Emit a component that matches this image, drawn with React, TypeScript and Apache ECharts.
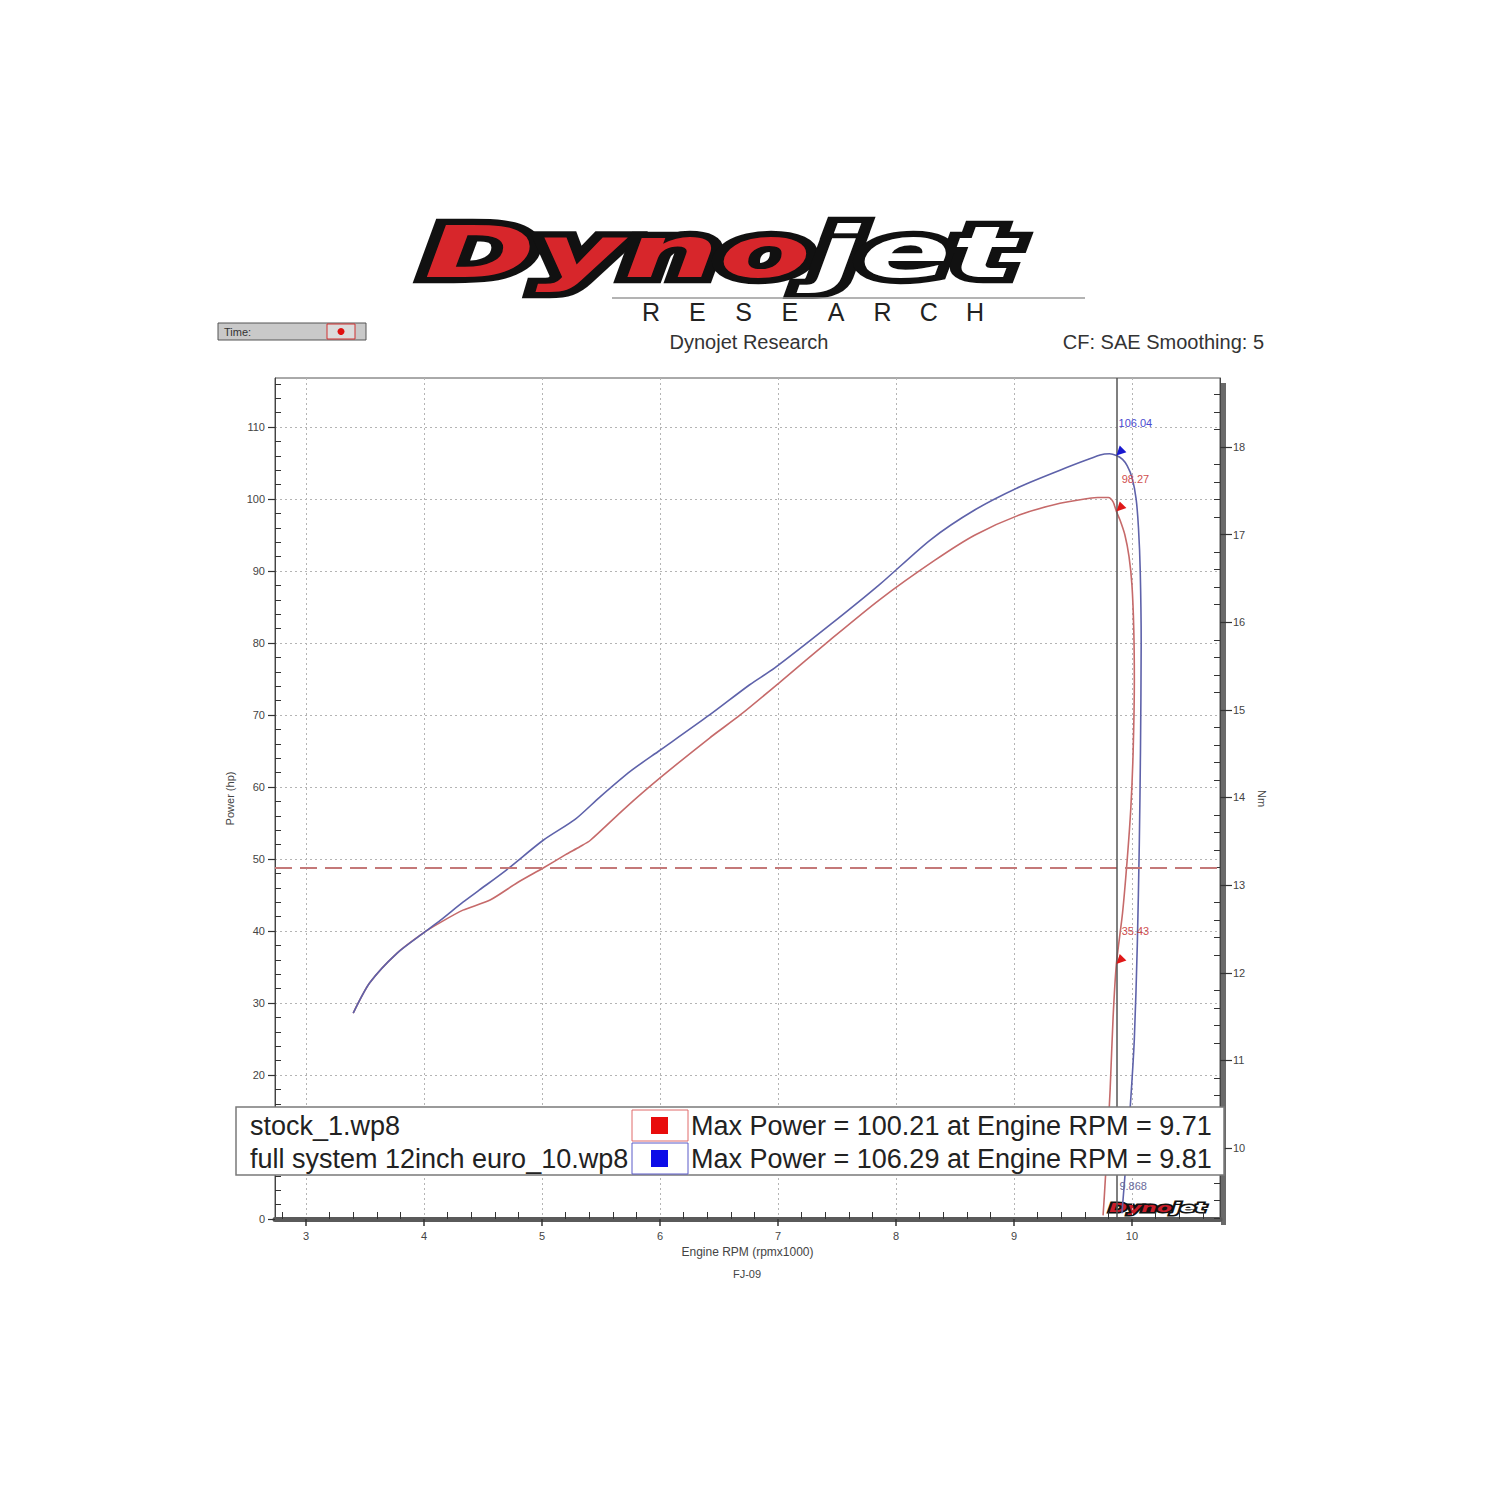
import React, { useEffect, useRef } from "react";
import * as echarts from "echarts";

const FONT = "'Liberation Sans', Arial, sans-serif";
const LOGO_FONT = "'DejaVu Sans', sans-serif";

// ---- axis ticks ----
const rpmTicks = [3, 4, 5, 6, 7, 8, 9, 10];
const powerTicks = [0, 10, 20, 30, 40, 50, 60, 70, 80, 90, 100, 110];
const powerLabels = [0, 20, 30, 40, 50, 60, 70, 80, 90, 100, 110];
const torqueTicks = [10, 11, 12, 13, 14, 15, 16, 17, 18];

// ---- runs ----
const runNames = ["stock_1.wp8", "full system 12inch euro_10.wp8"];
const maxPower = [100.21, 106.29];
const maxPowerRpm = [9.71, 9.81];

const stockRpm = [
  3.4, 3.54, 3.77, 4.01, 4.14, 4.33, 4.56, 4.79, 5.01, 5.2, 5.32, 5.41, 5.7, 6.0, 6.42, 6.68, 7.02,
  7.44, 7.86, 8.33, 8.67, 9.05, 9.39, 9.64, 9.71, 9.8, 9.84, 9.868, 9.9, 9.94, 9.975, 10.0, 10.015,
  10.02, 10.01, 9.99, 9.96, 9.92, 9.868, 9.84, 9.815, 9.79, 9.765, 9.755,
];
const stockHp = [
  28.6, 32.8, 36.9, 39.9, 41.2, 42.9, 44.3, 46.7, 48.75, 50.6, 51.7, 52.6, 57.0, 61.25, 66.8, 70.0,
  74.6, 80.4, 86.0, 91.5, 95.0, 97.8, 99.4, 100.1, 100.21, 100.2, 99.6, 98.27, 97.0, 95.0, 92.0, 88.0,
  82.0, 75.0, 65.0, 57.0, 50.0, 42.5, 35.43, 28.0, 18.0, 10.0, 3.0, 0.5,
];

const fullRpm = [
  3.4, 3.54, 3.77, 4.01, 4.14, 4.33, 4.47, 4.7, 5.01, 5.28, 5.49, 5.75, 6.0, 6.42, 6.76, 6.97, 7.44,
  7.86, 8.29, 8.67, 9.05, 9.39, 9.73, 9.81, 9.868, 9.92, 9.96, 10.0, 10.035, 10.055, 10.07, 10.078,
  10.072, 10.062, 10.045, 10.02, 9.985, 9.95, 9.915,
];
const fullHp = [
  28.6, 32.8, 36.9, 39.9, 41.5, 44.0, 45.7, 48.5, 52.6, 55.5, 58.6, 62.2, 65.1, 70.0, 74.2, 76.5,
  82.5, 88.1, 94.3, 98.5, 101.7, 104.0, 106.1, 106.29, 106.04, 105.5, 104.6, 103.0, 100.0, 96.0, 90.0,
  80.0, 65.0, 52.0, 38.0, 25.0, 15.5, 8.0, 0.8,
];

// ---- cursor / reference ----
const cursorRpm = 9.868;
const cursorValues = [106.04, 98.27, 35.43];
const cursorRuns = [1, 0, 0];
const referenceHp = 48.75;

const lineColors = ["#c66a6a", "#5e62aa"];
const markerColors = ["#e01818", "#1818d0"];
const labelColors = ["#d05050", "#4a4ad0"];

function range(from: number, to: number, step: number, skipEvery: number) {
  const out: number[] = [];
  const n = Math.round((to - from) / step);
  for (let i = 0; i <= n; i++) {
    const v = +(from + i * step).toFixed(4);
    if (Math.abs(v / skipEvery - Math.round(v / skipEvery)) > 1e-6) out.push(v);
  }
  return out;
}

export default function App() {
  const ref = useRef<HTMLDivElement>(null);

  useEffect(() => {
    if (!ref.current) return;
    const chart = echarts.init(ref.current, null, { renderer: "svg" });

    const xMin = 2.737;
    const xMax = 10.746;
    const yMax = 116.8;
    const tMin = 9.19;
    const tMax = 18.787;

    const rpmMinor = range(2.8, 10.6, 0.2, 1);
    const powerMinor = range(2, 116, 2, 10);
    const torqueMinor = range(9.2, 18.6, 0.2, 1);

    const axisText = { fontSize: 11, color: "#444", fontFamily: FONT };

    const legendY = [1126, 1159];
    const logoFont = `italic bold 80px ${LOGO_FONT}`;
    const smallLogoFont = `italic bold 13px ${LOGO_FONT}`;

    const graphic: any[] = [
      // Logo (big)
      {
        type: "group",
        x: 424,
        y: 252,
        scaleX: 1.68,
        scaleY: 0.88,
        z: 50,
        children: [
          { type: "text", x: 0, y: 0, style: { text: "Dyno", font: logoFont, fill: "#111", stroke: "#111", lineWidth: 14, verticalAlign: "middle", textAlign: "left" } },
          { type: "text", x: 232, y: 0, style: { text: "jet", font: logoFont, fill: "#111", stroke: "#111", lineWidth: 14, verticalAlign: "middle", textAlign: "left" } },
          { type: "text", x: 0, y: 0, style: { text: "Dyno", font: logoFont, fill: "#d7262b", verticalAlign: "middle", textAlign: "left" } },
          { type: "text", x: 232, y: 0, style: { text: "jet", font: logoFont, fill: "#ffffff", stroke: "#111", lineWidth: 1, verticalAlign: "middle", textAlign: "left" } },
        ],
      },
      // keep the RESEARCH row clean below the logo
      { type: "rect", z: 55, shape: { x: 600, y: 299, width: 500, height: 24 }, style: { fill: "#ffffff" } },
      { type: "line", z: 56, shape: { x1: 612, y1: 298, x2: 1085, y2: 298 }, style: { stroke: "#9a9a9a", lineWidth: 1.5 } },
      ..."RESEARCH".split("").map((ch, i) => ({
        type: "text",
        z: 60,
        x: 651 + i * 46.3,
        y: 312,
        style: { text: ch, font: `25px ${FONT}`, fill: "#222", textAlign: "center", verticalAlign: "middle" },
      })),
      { type: "text", x: 749, y: 342, style: { text: "Dynojet Research", font: `20px ${FONT}`, fill: "#333", textAlign: "center", verticalAlign: "middle" } },
      { type: "text", x: 1264, y: 342, style: { text: "CF: SAE Smoothing: 5", font: `20px ${FONT}`, fill: "#333", textAlign: "right", verticalAlign: "middle" } },
      // Time widget
      { type: "rect", shape: { x: 218, y: 323, width: 148, height: 17 }, style: { fill: "#c9c9c9", stroke: "#555", lineWidth: 1 } },
      { type: "text", x: 224, y: 331.5, style: { text: "Time:", font: `11px ${FONT}`, fill: "#333", verticalAlign: "middle" } },
      { type: "rect", shape: { x: 327, y: 324, width: 28, height: 15 }, style: { fill: "#dcdcdc", stroke: "#d03030", lineWidth: 1 } },
      { type: "circle", shape: { cx: 341, cy: 331.5, r: 3.5 }, style: { fill: "#e01010" } },
      // right shadow bar
      { type: "rect", shape: { x: 1221, y: 383, width: 5, height: 842 }, style: { fill: "#6a6a6a" } },
      // FJ-09
      { type: "text", x: 747, y: 1274, style: { text: "FJ-09", font: `11px ${FONT}`, fill: "#444", textAlign: "center", verticalAlign: "middle" } },
      // small logo
      {
        type: "group",
        x: 1109,
        y: 1207,
        scaleX: 1.68,
        z: 60,
        children: [
          { type: "text", x: 0, y: 0, style: { text: "Dyno", font: smallLogoFont, fill: "#111", stroke: "#111", lineWidth: 3, verticalAlign: "middle" } },
          { type: "text", x: 38, y: 0, style: { text: "jet", font: smallLogoFont, fill: "#111", stroke: "#111", lineWidth: 3, verticalAlign: "middle" } },
          { type: "text", x: 0, y: 0, style: { text: "Dyno", font: smallLogoFont, fill: "#c81e2a", verticalAlign: "middle" } },
          { type: "text", x: 38, y: 0, style: { text: "jet", font: smallLogoFont, fill: "#fff", verticalAlign: "middle" } },
        ],
      },
      // Legend box
      { type: "rect", z: 100, shape: { x: 236, y: 1107, width: 988, height: 68 }, style: { fill: "#fff", stroke: "#7a7a7a", lineWidth: 1.5 } },
      ...runNames.map((name, i) => ({
        type: "text",
        z: 101,
        x: 250,
        y: legendY[i],
        style: { text: name, font: `27px ${FONT}`, fill: "#222", verticalAlign: "middle" },
      })),
      ...runNames.map((_, i) => ({
        type: "rect",
        z: 101,
        shape: { x: 632, y: legendY[i] - 16, width: 56, height: 31 },
        style: { fill: "#fff", stroke: i === 0 ? "#e06a6a" : "#5a5ac8", lineWidth: 1 },
      })),
      ...runNames.map((_, i) => ({
        type: "rect",
        z: 102,
        shape: { x: 651, y: legendY[i] - 9, width: 17, height: 17 },
        style: { fill: i === 0 ? "#e80c0c" : "#0c0ce8" },
      })),
      ...runNames.map((_, i) => ({
        type: "text",
        z: 101,
        x: 691,
        y: legendY[i],
        style: {
          text: `Max Power = ${maxPower[i].toFixed(2)} at Engine RPM = ${maxPowerRpm[i].toFixed(2)}`,
          font: `27px ${FONT}`,
          fill: "#222",
          verticalAlign: "middle",
        },
      })),
    ];

    const option: any = {
      animation: false,
      backgroundColor: "#ffffff",
      grid: {
        left: 275,
        top: 378,
        width: 945,
        height: 841,
        show: true,
        borderColor: "#555",
        borderWidth: 1,
        backgroundColor: "transparent",
        containLabel: false,
        outerBoundsMode: "none",
      },
      xAxis: [
        {
          type: "value",
          min: xMin,
          max: xMax,
          position: "bottom",
          name: "Engine RPM (rpmx1000)",
          nameLocation: "middle",
          nameGap: 27,
          nameTextStyle: { fontSize: 12, color: "#444", fontFamily: FONT },
          axisLine: { show: true, onZero: false, lineStyle: { color: "#5a5a5a", width: 5 } },
          axisTick: { show: true, customValues: rpmTicks, length: 7, lineStyle: { color: "#333", width: 1.5 } },
          axisLabel: { customValues: rpmTicks, margin: 11, ...axisText },
          splitLine: { show: true, lineStyle: { type: [2, 3], color: "#b4b4b4", width: 1 } },
        },
        {
          type: "value",
          min: xMin,
          max: xMax,
          position: "bottom",
          axisLine: { show: false, onZero: false },
          axisTick: { show: true, inside: true, customValues: rpmMinor, length: 7, lineStyle: { color: "#333", width: 1 } },
          axisLabel: { show: false },
          splitLine: { show: false },
        },
      ],
      yAxis: [
        {
          type: "value",
          min: 0,
          max: yMax,
          position: "left",
          name: "Power (hp)",
          nameLocation: "middle",
          nameGap: 36,
          nameTextStyle: { fontSize: 11, color: "#444", fontFamily: FONT },
          axisLine: { show: true, lineStyle: { color: "#444", width: 1 } },
          axisTick: { show: true, customValues: powerTicks, length: 7, lineStyle: { color: "#333", width: 1.2 } },
          axisLabel: { customValues: powerLabels, margin: 10, ...axisText },
          splitLine: { show: true, lineStyle: { type: [2, 3], color: "#b4b4b4", width: 1 } },
        },
        {
          type: "value",
          min: tMin,
          max: tMax,
          position: "right",
          name: "Nm",
          nameLocation: "middle",
          nameGap: 32,
          nameRotate: -90,
          nameTextStyle: { fontSize: 11, color: "#444", fontFamily: FONT },
          axisLine: { show: true, lineStyle: { color: "#444", width: 1 } },
          axisTick: { show: true, customValues: torqueTicks, length: 12, lineStyle: { color: "#333", width: 1.2 } },
          axisLabel: { customValues: torqueTicks, margin: 13, ...axisText },
          splitLine: { show: false },
        },
        {
          type: "value",
          min: 0,
          max: yMax,
          position: "left",
          axisLine: { show: false },
          axisTick: { show: true, inside: true, customValues: powerMinor, length: 6, lineStyle: { color: "#333", width: 1 } },
          axisLabel: { show: false },
          splitLine: { show: false },
        },
        {
          type: "value",
          min: tMin,
          max: tMax,
          position: "right",
          axisLine: { show: false },
          axisTick: { show: true, inside: true, customValues: torqueMinor, length: 6, lineStyle: { color: "#333", width: 1 } },
          axisLabel: { show: false },
          splitLine: { show: false },
        },
      ],
      series: [
        {
          type: "line",
          name: runNames[0],
          xAxisIndex: 0,
          yAxisIndex: 0,
          data: stockRpm.map((r, i) => [r, stockHp[i]]),
          symbol: "none",
          smooth: 0.25,
          lineStyle: { color: lineColors[0], width: 1.6 },
          z: 3,
          markLine: {
            silent: true,
            symbol: "none",
            animation: false,
            label: { show: false },
            data: [
              { yAxis: referenceHp, lineStyle: { color: "#c47878", width: 2, type: [17, 8] } },
              { xAxis: cursorRpm, lineStyle: { color: "#555", width: 1.5, type: "solid" } },
            ],
          },
        },
        {
          type: "line",
          name: runNames[1],
          xAxisIndex: 0,
          yAxisIndex: 0,
          data: fullRpm.map((r, i) => [r, fullHp[i]]),
          symbol: "none",
          smooth: 0.25,
          lineStyle: { color: lineColors[1], width: 1.6 },
          z: 4,
          markPoint: {
            silent: true,
            animation: false,
            data: [
              ...cursorValues.map((v, i) => ({
                coord: [cursorRpm, v],
                value: v,
                symbol: "path://M0,10L3,1L9,7Z",
                symbolSize: 10,
                symbolOffset: [5, -5],
                itemStyle: { color: markerColors[cursorRuns[i]] },
                label: {
                  show: true,
                  position: "top",
                  distance: 5,
                  offset: [14, -12],
                  fontSize: 11,
                  fontFamily: FONT,
                  color: labelColors[cursorRuns[i]],
                  formatter: v.toFixed(2),
                },
              })),
              {
                coord: [cursorRpm, 4.6],
                value: cursorRpm,
                symbol: "circle",
                symbolSize: 0,
                label: {
                  show: true,
                  position: "right",
                  distance: 3,
                  fontSize: 11,
                  fontFamily: FONT,
                  color: "#6a6a9a",
                  formatter: cursorRpm.toFixed(3),
                },
              },
            ],
          },
        },
      ],
      graphic,
    };

    chart.setOption(option);
    return () => chart.dispose();
  }, []);

  return (
    <div
      ref={ref}
      style={{ position: "absolute", left: 0, top: 0, width: 1500, height: 1500, background: "#fff" }}
    />
  );
}
